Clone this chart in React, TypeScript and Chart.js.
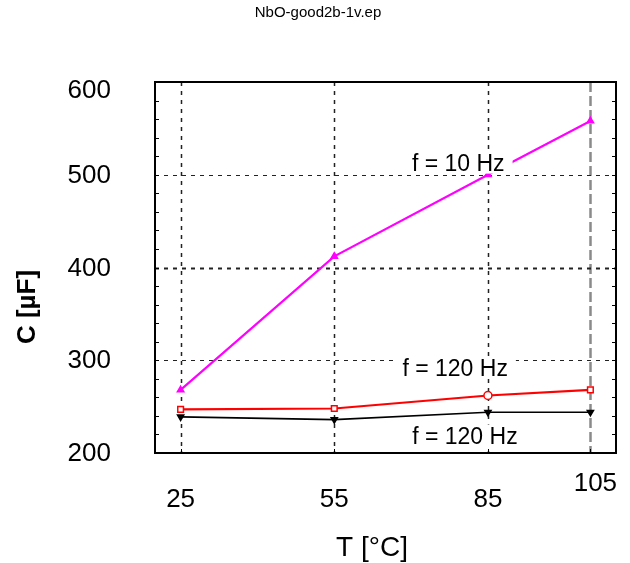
import React, { useEffect, useRef } from "react";
import { Chart, registerables } from "chart.js";

Chart.register(...registerables);

// ---- data ----
const temperatures = [25, 55, 85, 105];
const c10Hz = [268, 412, 500, 558];
const c120HzRed = [247, 248, 262, 268];
const c120HzBlack = [239, 236, 244, 244];
const xTickLabels = ["25", "55", "85", "105"];
const yTickValues = [200, 300, 400, 500, 600];
const yGridValues = [300, 400, 500];
const yMinorStep = 20;
const chartTitle = "NbO-good2b-1v.ep";
const xTitle = "T [°C]";
const yTitle = "C [µF]";
const annotations = [
  { text: "f = 10 Hz", x: 79.2, y: 512 },
  { text: "f = 120 Hz", x: 78.6, y: 291.4 },
  { text: "f = 120 Hz", x: 80.5, y: 217.8 },
];

const FONT = "'Liberation Sans', Arial, Helvetica, sans-serif";

const decorPlugin = {
  id: "decor",
  beforeDatasetsDraw(chart: any) {
    const { ctx, chartArea: a, scales } = chart;
    const xs = scales.x;
    const ys = scales.y;
    ctx.save();
    // vertical grid
    temperatures.forEach((t, i) => {
      const px = Math.round(xs.getPixelForValue(t)) + 0.5;
      ctx.beginPath();
      if (i === temperatures.length - 1) {
        ctx.strokeStyle = "#8a8a8a";
        ctx.lineWidth = 2.5;
        ctx.setLineDash([10, 4]);
      } else {
        ctx.strokeStyle = "#222";
        ctx.lineWidth = 1.5;
        ctx.setLineDash([4, 5]);
      }
      ctx.moveTo(px, a.top);
      ctx.lineTo(px, a.bottom);
      ctx.stroke();
    });
    // horizontal grid
    yGridValues.forEach((v) => {
      const py = Math.round(ys.getPixelForValue(v)) + 0.5;
      ctx.beginPath();
      ctx.strokeStyle = "#222";
      ctx.lineWidth = v === 400 ? 2 : 1.2;
      ctx.setLineDash([4, 5]);
      ctx.moveTo(a.left, py);
      ctx.lineTo(a.right, py);
      ctx.stroke();
    });
    ctx.setLineDash([]);
    // minor ticks on y
    ctx.strokeStyle = "#000";
    ctx.lineWidth = 1;
    for (let v = 200 + yMinorStep; v < 600; v += yMinorStep) {
      const py = Math.round(ys.getPixelForValue(v)) + 0.5;
      ctx.beginPath();
      ctx.moveTo(a.left, py);
      ctx.lineTo(a.left + 4, py);
      ctx.moveTo(a.right, py);
      ctx.lineTo(a.right - 4, py);
      ctx.stroke();
    }
    // ticks on x
    temperatures.forEach((t) => {
      const px = Math.round(xs.getPixelForValue(t)) + 0.5;
      ctx.beginPath();
      ctx.moveTo(px, a.bottom);
      ctx.lineTo(px, a.bottom - 4);
      ctx.stroke();
    });
    // border box
    ctx.lineWidth = 2;
    ctx.strokeStyle = "#000";
    ctx.strokeRect(a.left, a.top, a.right - a.left, a.bottom - a.top);
    ctx.restore();
  },
  afterDatasetsDraw(chart: any) {
    const { ctx, scales } = chart;
    const xs = scales.x;
    const ys = scales.y;
    ctx.save();
    ctx.fillStyle = "#000";
    // annotations with white background
    ctx.font = `23px ${FONT}`;
    ctx.textAlign = "center";
    ctx.textBaseline = "middle";
    annotations.forEach((an) => {
      const px = xs.getPixelForValue(an.x);
      const py = ys.getPixelForValue(an.y);
      const w = ctx.measureText(an.text).width;
      ctx.fillStyle = "#fff";
      ctx.fillRect(px - w / 2 - 8, py - 12, w + 16, 22);
      ctx.fillStyle = "#000";
      ctx.fillText(an.text, px, py + 1);
    });
    // x tick labels
    ctx.font = `26px ${FONT}`;
    xTickLabels.forEach((lab, i) => {
      const px = xs.getPixelForValue(temperatures[i]);
      const last = i === xTickLabels.length - 1;
      ctx.fillText(lab, px + (last ? 5 : 0), last ? 484 : 500);
    });
    // y tick labels
    ctx.textAlign = "right";
    yTickValues.forEach((v) => {
      const py = ys.getPixelForValue(v) + (v === 600 ? 9 : 1);
      ctx.fillText(String(v), 111, py);
    });
    // axis titles
    ctx.textAlign = "center";
    ctx.font = `28px ${FONT}`;
    ctx.fillText(xTitle, 372, 548);
    ctx.save();
    ctx.translate(28, 307);
    ctx.rotate(-Math.PI / 2);
    ctx.font = `bold 26px ${FONT}`;
    ctx.fillText(yTitle, 0, 0);
    ctx.restore();
    // chart title
    ctx.font = `15px ${FONT}`;
    ctx.fillText(chartTitle, 318, 13);
    ctx.restore();
  },
};

export default function App() {
  const ref = useRef<HTMLCanvasElement>(null);
  useEffect(() => {
    if (!ref.current) return;
    const mk = (arr: number[]) => temperatures.map((t, i) => ({ x: t, y: arr[i] }));
    const chart = new Chart(ref.current, {
      type: "line",
      data: {
        datasets: [
          {
            label: "f = 10 Hz",
            data: mk(c10Hz),
            borderColor: "#ff00ff",
            backgroundColor: "#ff00ff",
            borderWidth: 2.2,
            pointStyle: "triangle",
            pointRadius: 3,
            tension: 0,
          },
          {
            label: "f = 120 Hz (red)",
            data: mk(c120HzRed),
            borderColor: "#ff0000",
            backgroundColor: "#ffffff",
            borderWidth: 2.2,
            pointBorderWidth: 1.5,
            pointStyle: ["rect", "rect", "circle", "rect"] as any,
            pointRadius: 4,
            tension: 0,
          },
          {
            label: "f = 120 Hz (black)",
            data: mk(c120HzBlack),
            borderColor: "#000000",
            backgroundColor: "#000000",
            borderWidth: 1.6,
            pointStyle: "triangle",
            pointRotation: 180,
            pointRadius: 3.5,
            tension: 0,
          },
        ],
      },
      options: {
        animation: false,
        responsive: false,
        maintainAspectRatio: false,
        devicePixelRatio: 1,
        layout: { padding: { left: 155, top: 82, right: 14, bottom: 110 } },
        plugins: { legend: { display: false }, tooltip: { enabled: false }, title: { display: false } },
        scales: {
          x: { type: "linear", min: 20, max: 110, display: false },
          y: { type: "linear", min: 200, max: 600, display: false },
        },
      },
      plugins: [decorPlugin],
    });
    return () => chart.destroy();
  }, []);
  return (
    <div style={{ position: "absolute", left: 0, top: 0, width: 630, height: 563, background: "#fff" }}>
      <canvas ref={ref} width={630} height={563} style={{ width: 630, height: 563 }} />
    </div>
  );
}
